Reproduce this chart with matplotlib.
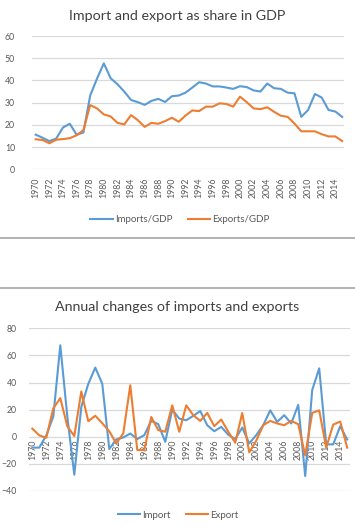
import matplotlib.pyplot as plt
import numpy as np
from matplotlib.lines import Line2D

plt.rcParams['font.family'] = ['Lato', 'DejaVu Sans']

# dados
years = list(range(1970, 2016))
imports_gdp = [15.6, 14.2, 12.7, 13.8, 18.8, 20.5, 15.6, 16.5, 33.2, 40.8,
               47.7, 41.0, 38.3, 35.0, 31.2, 30.2, 29.0, 30.8, 31.7, 30.3,
               32.9, 33.2, 34.5, 36.8, 39.2, 38.6, 37.3, 37.3, 36.8, 36.2,
               37.4, 37.0, 35.5, 35.0, 38.6, 36.5, 36.2, 34.5, 34.2, 23.6,
               26.7, 33.9, 32.3, 26.7, 26.0, 23.6]
exports_gdp = [13.5, 13.2, 11.7, 13.3, 13.6, 14.0, 15.3, 17.6, 28.9, 27.4,
               24.7, 23.8, 20.9, 20.2, 24.4, 22.1, 19.1, 20.9, 20.5, 21.7,
               23.2, 21.4, 24.2, 26.5, 26.2, 28.2, 28.2, 29.7, 29.4, 28.2,
               32.7, 30.2, 27.4, 27.1, 27.9, 25.9, 24.1, 23.6, 20.6, 17.1,
               17.1, 17.1, 15.8, 14.8, 14.8, 12.7]
import_change = [-8, -8, 1, 15, 67.5, 15, -28, 22, 39, 51,
                 39, -9, -2, -0.5, 2.4, -1.7, 1.2, 11.7, 9.3, -3.7,
                 20, 13.4, 12.2, 15.4, 19, 8.5, 4.1, 7.3, 1.5, -1.7,
                 6.8, -4.9, 1.2, 8.5, 19.5, 11, 15.9, 9.8, 23.5, -29,
                 34.5, 50.5, -5.6, -5.6, 7.8, -2]
export_change = [6, 1, -0.7, 21, 28.5, 7.8, 0.5, 33.4, 11.5, 15.5,
                 10, 4, -4.9, 2.5, 38, -9.8, -9.8, 14.6, 4.9, 3.7,
                 23.2, 3.7, 23.2, 15.9, 11.7, 17.6, 7.8, 12.7, 3.7, -4.4,
                 17.5, -11.5, -2.9, 8.5, 11.7, 9.8, 8.5, 11.7, 9.3, -13.7,
                 17.6, 19.5, -8, 9, 11.2, -8]

blue = "#5B9BD5"
orange = "#ED7D31"
grid = "#D9D9D9"
txt = "#595959"

W, H = 355, 527
fig = plt.figure(figsize=(W / 100, H / 100), dpi=100)

def box(l, r, t, b):
    return [l / W, 1 - b / H, (r - l) / W, (b - t) / H]

x = np.arange(len(years))
ticks = x[::2]
ticklabels = [str(a) for a in years[::2]]

def estilo(ax):
    for s in ax.spines.values():
        s.set_visible(False)
    ax.yaxis.grid(True, color=grid, linewidth=0.9)
    ax.set_axisbelow(True)
    ax.tick_params(length=0, labelsize=6.3, colors=txt)
    ax.tick_params(axis='x', labelrotation=90)
    ax.set_xticks(ticks)
    ax.set_xticklabels(ticklabels)

#1 - share in GDP
ax1 = fig.add_axes(box(31.7, 343.5, 36, 169.3))
ax1.plot(x, imports_gdp, color=blue, linewidth=1.5, label="Imports/GDP")
ax1.plot(x, exports_gdp, color=orange, linewidth=1.5, label="Exports/GDP")
ax1.set_ylim(0, 60)
ax1.set_yticks(np.arange(0, 61, 10))
ax1.set_xlim(-0.59, 45.2)
estilo(ax1)
ax1.tick_params(axis='x', pad=6)
ax1.tick_params(axis='y', pad=12)
fig.text(177 / W, 1 - 16 / H, "Import and export as share in GDP", ha='center', va='center', fontsize=10.3, color="#404040")
ax1.legend(loc='center', bbox_to_anchor=(180 / W, 1 - 220 / H), bbox_transform=fig.transFigure,
           ncol=2, frameon=False, fontsize=7, handlelength=2.3, handletextpad=0.2, columnspacing=1.6,
           labelcolor=txt)

#2 - annual changes
ax2 = fig.add_axes(box(29.3, 350, 328.3, 491))
ax2.plot(x, import_change, color=blue, linewidth=1.5, label="Import")
ax2.plot(x, export_change, color=orange, linewidth=1.5, label="Export")
ax2.set_ylim(-40, 80)
ax2.set_yticks(np.arange(-40, 81, 20))
ax2.set_xlim(-0.43, 45.4)
ax2.spines['bottom'].set_position(('data', 0))
estilo(ax2)
ax2.tick_params(axis='x', pad=2)
ax2.tick_params(axis='y', pad=9)
fig.text(177 / W, 1 - 307 / H, "Annual changes of imports and exports", ha='center', va='center', fontsize=10.3, color="#404040")
ax2.legend(loc='center', bbox_to_anchor=(178 / W, 1 - 515 / H), bbox_transform=fig.transFigure,
           ncol=2, frameon=False, fontsize=7, handlelength=2.3, handletextpad=0.2, columnspacing=1.6,
           labelcolor=txt)

# linhas de separação
for yy in [238, 288]:
    fig.add_artist(Line2D([0, 1], [1 - yy / H, 1 - yy / H], color="#A6A6A6", linewidth=1.2))

fig.savefig("out.png", dpi=100)
